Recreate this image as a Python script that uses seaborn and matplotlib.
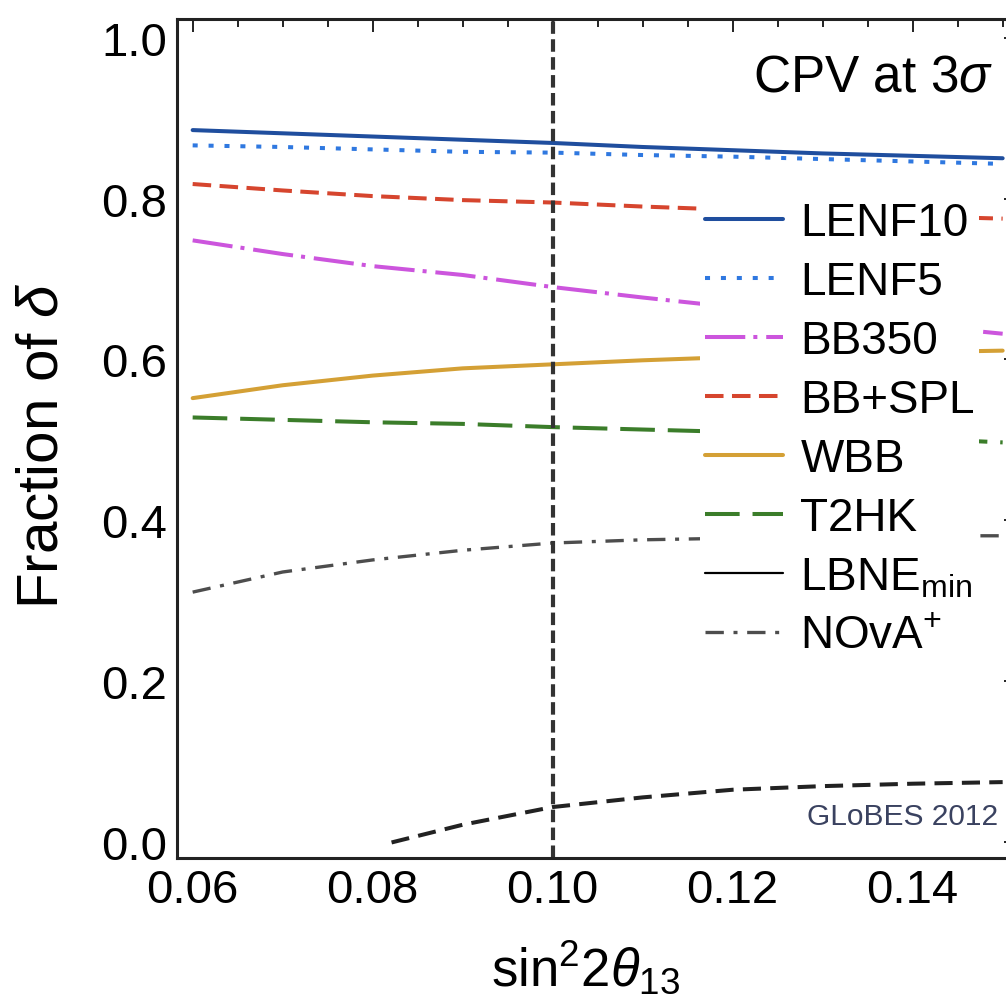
import numpy as np
import pandas as pd
import seaborn as sns
from matplotlib import pyplot as plt
from matplotlib.lines import Line2D
from matplotlib.ticker import MultipleLocator

# valores
x_s2t = [0.06, 0.07, 0.08, 0.09, 0.10, 0.11, 0.12, 0.13, 0.14, 0.15]
lenf10 = [0.885, 0.881, 0.877, 0.873, 0.869, 0.864, 0.860, 0.856, 0.853, 0.850]
lenf5 = [0.866, 0.864, 0.861, 0.858, 0.857, 0.854, 0.852, 0.849, 0.846, 0.843]
bb350 = [0.748, 0.731, 0.716, 0.705, 0.690, 0.677, 0.665, 0.654, 0.643, 0.632]
bb_spl = [0.818, 0.810, 0.803, 0.798, 0.795, 0.790, 0.786, 0.782, 0.778, 0.775]
wbb = [0.552, 0.568, 0.580, 0.589, 0.594, 0.599, 0.603, 0.606, 0.609, 0.611]
t2hk = [0.528, 0.525, 0.522, 0.520, 0.516, 0.513, 0.510, 0.506, 0.502, 0.497]
nova_plus = [0.311, 0.336, 0.351, 0.363, 0.372, 0.376, 0.378, 0.380, 0.381, 0.381]

# curva negra discontinua de abajo (sin entrada en la leyenda visible)
x_low = [0.0821, 0.09, 0.10, 0.11, 0.12, 0.13, 0.14, 0.15]
low_curve = [0.0, 0.022, 0.044, 0.056, 0.0655, 0.070, 0.073, 0.075]

theta13_best = 0.10

sns.set_style('white')
plt.rcParams['font.family'] = ['Liberation Sans', 'DejaVu Sans']
plt.rcParams['text.color'] = 'black'
plt.rcParams['axes.labelcolor'] = 'black'
plt.rcParams['xtick.labelcolor'] = 'black'
plt.rcParams['ytick.labelcolor'] = 'black'
plt.rcParams['mathtext.fontset'] = 'custom'
plt.rcParams['mathtext.rm'] = 'Liberation Sans'
plt.rcParams['mathtext.it'] = 'Liberation Sans:italic'
plt.rcParams['mathtext.bf'] = 'Liberation Sans:bold'

W, H = 1006, 1003
x_lo, x_hi = 0.05826, 0.1516
fig = plt.figure(figsize=(W / 100, H / 100), dpi=100)
ax = fig.add_axes([177 / W, 144 / H, (x_hi - x_lo) * 9000 / W, 839 / H])

# (serie, etiqueta, color, grosor, patron de guiones)
series = [
    (lenf10, 'LENF10', '#1f4e9e', 2.9, None),
    (lenf5, 'LENF5', '#2f78e0', 2.9, (1.25, 2.7)),
    (bb350, 'BB350', '#cc55dd', 2.9, (10, 2, 1, 2.2)),
    (bb_spl, 'BB+SPL', '#d6452e', 2.9, (4.6, 2.1)),
    (wbb, 'WBB', '#d4a035', 2.9, None),
    (t2hk, 'T2HK', '#3b7d2a', 2.9, (8.6, 3.2)),
    (nova_plus, r'NOvA$^{+}$', '#4d4d4d', 2.4, (5.5, 2.9, 1.2, 2.9)),
]

handles = {}
for vals, lab, col, lw, dash in series:
    sns.lineplot(x=x_s2t, y=vals, ax=ax, color=col, lw=lw, label=lab)
    ln = ax.lines[-1]
    if dash is not None:
        ln.set_dashes(dash)
    handles[lab] = ln

sns.lineplot(x=x_low, y=low_curve, ax=ax, color='#222222', lw=2.9)
ax.lines[-1].set_dashes((4.5, 2.3))

ax.axvline(theta13_best, color='#333333', lw=3.0, dashes=(3, 1.3))

ax.set_xlim(x_lo, x_hi)
ax.set_ylim(-0.0193, 1.023)
ax.xaxis.set_major_locator(MultipleLocator(0.02))
ax.xaxis.set_minor_locator(MultipleLocator(0.005))
ax.yaxis.set_major_locator(MultipleLocator(0.2))
ax.yaxis.set_minor_locator(MultipleLocator(0.05))
ax.xaxis.set_major_formatter(lambda v, p: f'{v:.2f}')
ax.yaxis.set_major_formatter(lambda v, p: f'{v:.1f}')

for s in ax.spines.values():
    s.set_linewidth(2.2)
    s.set_color('#222222')
ax.tick_params(which='both', direction='in', top=True, right=True,
               color='#222222', width=1.4)
ax.tick_params(which='major', length=9.4, labelsize=34, pad=7)
ax.tick_params(which='minor', length=5.8)

ax.set_ylabel(r'Fraction of $\delta$', fontsize=42, va='center')
ax.yaxis.set_label_coords(-0.160, 0.4934)
ax.set_xlabel(r'sin$^{2}$2$\theta_{13}$', fontsize=38, va='center')
ax.xaxis.set_label_coords(0.487, -0.130)

ax.text(993, 911, r'CPV at 3$\sigma$', transform=None,
        ha='right', va='baseline', fontsize=37)
ax.text(998, 178, 'GLoBES 2012', transform=None,
        ha='right', va='baseline', fontsize=21.5, color='#3a4260')

# leyenda con la entrada LBNE_min (linea negra fina)
lbne = Line2D([], [], color='black', lw=1.6)
order = ['LENF10', 'LENF5', 'BB350', 'BB+SPL', 'WBB', 'T2HK']
hs = [handles[k] for k in order] + [lbne, handles[r'NOvA$^{+}$']]
ls = order + [r'LBNE$_{\mathrm{min}}$', r'NOvA$^{+}$']
ax.legend(hs, ls, loc='upper left', bbox_to_anchor=(700 / W, 1 - 197 / H),
          bbox_transform=fig.transFigure, fontsize=33, frameon=True,
          facecolor='white', edgecolor='none', framealpha=1, fancybox=False,
          borderpad=0.1, borderaxespad=0, handlelength=1.72,
          handletextpad=0.37, labelspacing=0.33)

fig.savefig('out.png', dpi=100)
